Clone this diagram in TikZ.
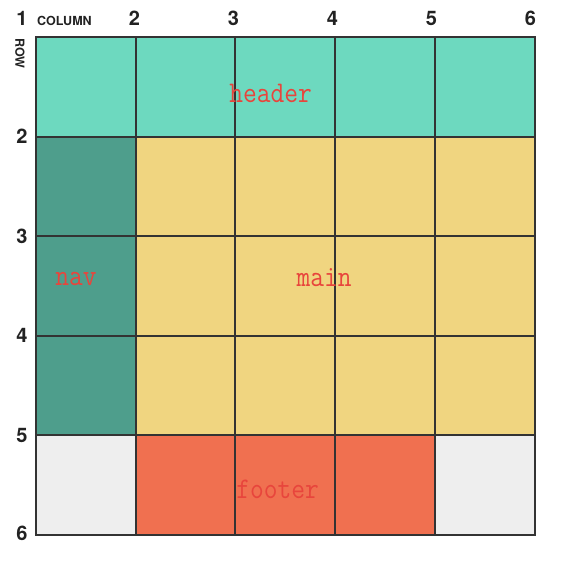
\documentclass[tikz,border=0pt]{standalone}
\usepackage{fontspec}
\setmainfont{TeX Gyre Heros}
\definecolor{hdr}{HTML}{6DD9BF}
\definecolor{navc}{HTML}{4E9E8C}
\definecolor{mainc}{HTML}{F0D580}
\definecolor{foot}{HTML}{F07050}
\definecolor{empt}{HTML}{EEEEEE}
\definecolor{gridc}{HTML}{333333}
\definecolor{txtc}{HTML}{222222}
\definecolor{areac}{HTML}{E8453C}
\begin{document}
\begin{tikzpicture}[x=1pt,y=-1pt,
  cell/.style={draw=gridc,line width=2pt},
  num/.style={font=\fontsize{20}{20}\selectfont\bfseries,text=txtc,inner sep=0pt,anchor=base},
  small/.style={font=\fontsize{12.5}{12.5}\selectfont\bfseries,text=txtc,inner sep=0pt},
  area/.style={font=\ttfamily\fontsize{30}{30}\selectfont,text=areac,inner sep=0pt,xscale=0.89}]
\useasboundingbox (0,0) rectangle (576,564);
% grid coordinates
\def\xa{36}\def\xb{135.7}\def\xc{235.4}\def\xd{335.1}\def\xe{434.8}\def\xf{534.5}
\def\ya{37}\def\yb{136.6}\def\yc{236.2}\def\yd{335.8}\def\ye{435.4}\def\yf{535}
% fills
\fill[hdr] (\xa,\ya) rectangle (\xf,\yb);
\fill[navc] (\xa,\yb) rectangle (\xb,\ye);
\fill[mainc] (\xb,\yb) rectangle (\xf,\ye);
\fill[empt] (\xa,\ye) rectangle (\xb,\yf);
\fill[foot] (\xb,\ye) rectangle (\xe,\yf);
\fill[empt] (\xe,\ye) rectangle (\xf,\yf);
% grid lines
\foreach \x in {\xa,\xb,\xc,\xd,\xe,\xf}
  \draw[cell] (\x,\ya) -- (\x,\yf);
\foreach \y in {\ya,\yb,\yc,\yd,\ye,\yf}
  \draw[cell] (\xa,\y) -- (\xf,\y);
\draw[cell] (\xa,\ya) rectangle (\xf,\yf);
% column numbers
\node[num] (c1) at (22,25.2) {1};
\node[num] (c2) at (134.5,25.2) {2};
\node[num] (c3) at (233.5,25.2) {3};
\node[num] (c4) at (332.5,25.2) {4};
\node[num] (c5) at (431.5,25.2) {5};
\node[num] (c6) at (530.5,25.2) {6};
\node[small,anchor=west] (col) at (37,20.5) {COLUMN};
\node[small,rotate=-90,anchor=west] (row) at (20,38) {ROW};
% row numbers
\node[num] (r2) at (22,143.5) {2};
\node[num] (r3) at (22,243.5) {3};
\node[num] (r4) at (22,342.5) {4};
\node[num] (r5) at (22,442.5) {5};
\node[num] (r6) at (22,540.5) {6};
% area labels
\node[area] (header) at (270.5,93) {header};
\node[area] (nav) at (76,279) {nav};
\node[area] (main) at (324,278) {main};
\node[area] (footer) at (277.5,489) {footer};
\end{tikzpicture}
\end{document}
